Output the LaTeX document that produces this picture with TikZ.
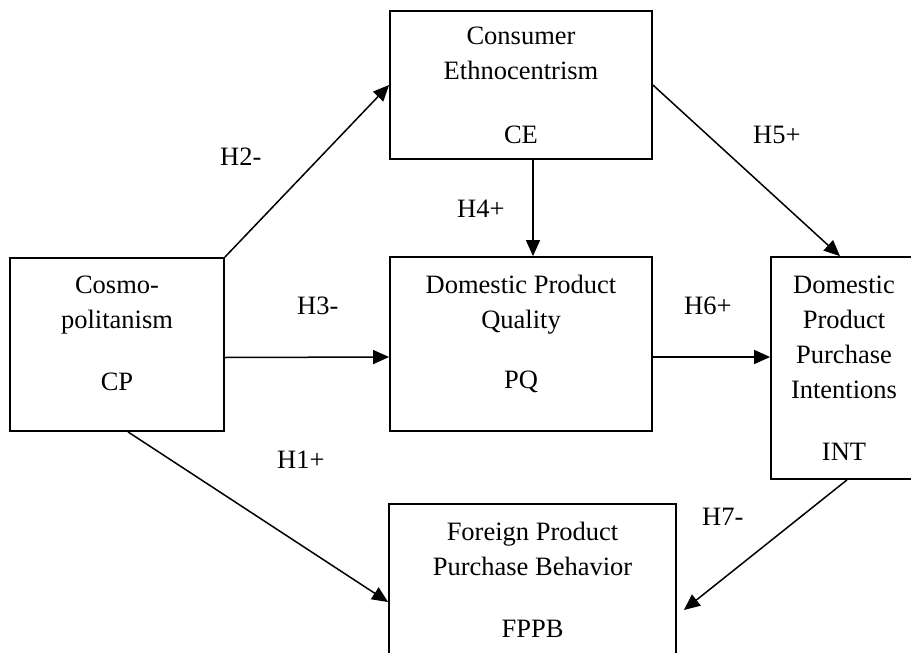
\documentclass[tikz,border=0pt]{standalone}
\usepackage{fontspec}
\setmainfont{Liberation Serif}
\usetikzlibrary{arrows.meta,calc}
\begin{document}
\begin{tikzpicture}[x=1pt,y=-1pt,
  box/.style={draw,line width=1.8pt,inner sep=0pt},
  txt/.style={inner sep=0pt,anchor=base,font=\fontsize{26.5}{35}\selectfont},
  lbl/.style={inner sep=0pt,anchor=base west,font=\fontsize{26.5}{35}\selectfont},
  arr/.style={line width=1.5pt,-{Triangle[length=16pt,width=14pt]}}]
\useasboundingbox (0,0) rectangle (911,653);
\clip (0,0) rectangle (911,653);
% boxes
\node[box,minimum width=214pt,minimum height=173pt] (cp) at (117,344.5) {};
\node[box,minimum width=262pt,minimum height=148pt] (ce) at (521,85) {};
\node[box,minimum width=262pt,minimum height=174pt] (pq) at (521,344) {};
\node[box,minimum width=146pt,minimum height=222pt] (int) at (844,368) {};
\node[box,minimum width=287pt,minimum height=176pt] (fppb) at (532.5,592) {};
% texts
\node[txt] (cpt) at (117,293) {\begin{tabular}[t]{@{}c@{}}Cosmo-\\politanism\end{tabular}};
\node[txt] (cpa) at (117,390) {CP};
\node[txt] (cet) at (521,45) {\begin{tabular}[t]{@{}c@{}}Consumer\\Ethnocentrism\end{tabular}};
\node[txt] (cea) at (521,143) {CE};
\node[txt] (pqt) at (521,293) {\begin{tabular}[t]{@{}c@{}}Domestic Product\\Quality\end{tabular}};
\node[txt] (pqa) at (521,388) {PQ};
\node[txt] (intt) at (844,293) {\begin{tabular}[t]{@{}c@{}}Domestic\\Product\\Purchase\\Intentions\end{tabular}};
\node[txt] (inta) at (844,460) {INT};
\node[txt] (fppbt) at (532.5,540) {\begin{tabular}[t]{@{}c@{}}Foreign Product\\Purchase Behavior\end{tabular}};
\node[txt] (fppba) at (532.5,637) {FPPB};
% connectors
\draw[arr] (cp.north east) -- (ce.west);
\draw[arr] (ce.east) -- ([xshift=-4pt]int.north);
\draw[arr] ([xshift=12pt]ce.south) -- ([xshift=12pt]pq.north);
\draw[arr] ([yshift=-13pt]cp.east) -- ([yshift=-13pt]pq.west);
\coordinate (h6a) at ([yshift=-13pt]pq.east);
\draw[arr] (h6a) -- (h6a -| int.west);
\draw[arr] ([xshift=11pt]cp.south) -- ([yshift=-10pt]fppb.west);
\draw[arr] ([xshift=3pt]int.south) -- ([shift={(7pt,-18pt)}]fppb.east);
% labels
\node[lbl] (h2) at (220,165) {H2-};
\node[lbl] (h5) at (753,143) {H5+};
\node[lbl] (h4) at (457,217) {H4+};
\node[lbl] (h3) at (297,314) {H3-};
\node[lbl] (h6) at (684,314) {H6+};
\node[lbl] (h1) at (277,468) {H1+};
\node[lbl] (h7) at (702,525) {H7-};
\end{tikzpicture}
\end{document}
